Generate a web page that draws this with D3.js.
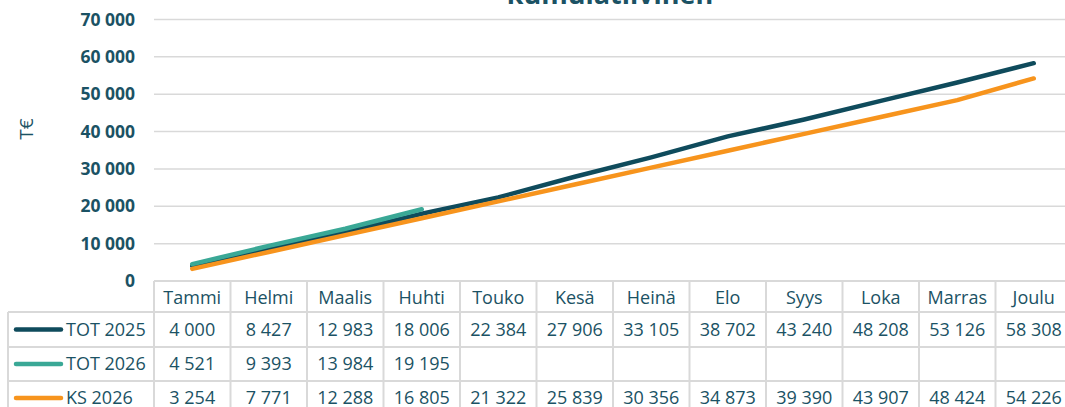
<!DOCTYPE html>
<html>
<head>
<meta charset="utf-8">
<script src="https://cdn.jsdelivr.net/npm/d3@7"></script>
<style>
  body { margin: 0; background: #fff; }
  text { font-family: "Open Sans", sans-serif; }
</style>
</head>
<body>
<script>
var width = 1065;
var height = 407;

var months = ['Tammi', 'Helmi', 'Maalis', 'Huhti', 'Touko', 'Kesä', 'Heinä', 'Elo', 'Syys', 'Loka', 'Marras', 'Joulu'];
var tot2025 = [4000, 8427, 12983, 18006, 22384, 27906, 33105, 38702, 43240, 48208, 53126, 58308];
var tot2026 = [4521, 9393, 13984, 19195];
var ks2026 = [3254, 7771, 12288, 16805, 21322, 25839, 30356, 34873, 39390, 43907, 48424, 54226];
var yTicks = [0, 10000, 20000, 30000, 40000, 50000, 60000, 70000];

var seriesNames = ['TOT 2025', 'TOT 2026', 'KS 2026'];
var seriesColors = ['#0f4b5c', '#3aa896', '#f7941d'];
var seriesData = [tot2025, tot2026, ks2026];

var textColor = '#1b5264';
var gridColor = '#d9d9d9';

var fi = d3.formatLocale({decimal: ',', thousands: ' ', grouping: [3], currency: ['', ' €']});
var fmt = fi.format(',d');

var svg = d3.select('body')
    .append('svg')
    .attr('width', width)
    .attr('height', height);

// plot area
var left = 154, colW = 76.5;
var x = d3.scaleBand()
    .domain(months)
    .range([left, left + colW * months.length]);
var y = d3.scaleLinear()
    .domain([0, 70000])
    .range([281, 19.5]);

// gridlines
svg.append('g').selectAll('line')
    .data(yTicks.slice(1))
    .enter()
    .append('line')
    .attr('x1', left)
    .attr('x2', width)
    .attr('y1', d => y(d))
    .attr('y2', d => y(d))
    .attr('stroke', gridColor)
    .attr('stroke-width', 1.5);

// y axis labels
var yAxis = svg.append('g')
    .attr('transform', 'translate(135,0)')
    .call(d3.axisLeft(y).tickValues(yTicks).tickSize(0).tickPadding(0).tickFormat(fmt));
yAxis.select('.domain').remove();
yAxis.selectAll('text')
    .attr('fill', textColor)
    .style('font-family', '"Open Sans", sans-serif')
    .style('font-size', '17.5px')
    .style('font-weight', 'bold');

// axis title
svg.append('text')
    .attr('transform', 'translate(33,129) rotate(-90)')
    .attr('text-anchor', 'middle')
    .attr('fill', textColor)
    .style('font-size', '19px')
    .text('T€');

// chart title (cut off at top)
svg.append('text')
    .attr('x', 610)
    .attr('y', 4)
    .attr('text-anchor', 'middle')
    .attr('fill', textColor)
    .style('font-size', '27px')
    .style('font-weight', 'bold')
    .text('kumulatiivinen');

// lines
var line = d3.line()
    .x((d, i) => x(months[i]) + x.bandwidth() / 2)
    .y(d => y(d));

svg.append('g').selectAll('path')
    .data(seriesData)
    .enter()
    .append('path')
    .attr('d', d => line(d))
    .attr('fill', 'none')
    .attr('stroke', (d, i) => seriesColors[i])
    .attr('stroke-width', 4.5)
    .attr('stroke-linecap', 'round')
    .attr('stroke-linejoin', 'round');

// data table
var rowTops = [281, 312, 347, 381, 415];
var table = svg.append('g');

// horizontal lines
table.append('line')
    .attr('x1', left).attr('x2', width)
    .attr('y1', rowTops[0]).attr('y2', rowTops[0])
    .attr('stroke', gridColor).attr('stroke-width', 2);
table.selectAll('.hl')
    .data(rowTops.slice(1, 4))
    .enter()
    .append('line')
    .attr('x1', 8).attr('x2', width)
    .attr('y1', d => d).attr('y2', d => d)
    .attr('stroke', gridColor).attr('stroke-width', 2);

// vertical lines
table.selectAll('.vl')
    .data(months.map(m => x(m)).concat([x(months[11]) + colW]))
    .enter()
    .append('line')
    .attr('x1', d => d).attr('x2', d => d)
    .attr('y1', rowTops[0]).attr('y2', height)
    .attr('stroke', gridColor).attr('stroke-width', 2);
table.append('line')
    .attr('x1', 8).attr('x2', 8)
    .attr('y1', rowTops[1]).attr('y2', height)
    .attr('stroke', gridColor).attr('stroke-width', 2);

// header
table.selectAll('.hd')
    .data(months)
    .enter()
    .append('text')
    .attr('x', d => x(d) + x.bandwidth() / 2)
    .attr('y', (rowTops[0] + rowTops[1]) / 2 + 1)
    .attr('dy', '0.35em')
    .attr('text-anchor', 'middle')
    .attr('fill', textColor)
    .style('font-size', '18px')
    .text(d => d);

// rows
seriesData.forEach(function(vals, r) {
    var cy = (rowTops[r + 1] + rowTops[r + 2]) / 2;
    table.append('line')
        .attr('x1', 16).attr('x2', 61)
        .attr('y1', cy).attr('y2', cy)
        .attr('stroke', seriesColors[r])
        .attr('stroke-width', 4.5)
        .attr('stroke-linecap', 'round');
    table.append('text')
        .attr('x', 66)
        .attr('y', cy)
        .attr('dy', '0.35em')
        .attr('fill', textColor)
        .style('font-size', '18px')
        .text(seriesNames[r]);
    table.selectAll('.v' + r)
        .data(vals)
        .enter()
        .append('text')
        .attr('x', (d, i) => x(months[i]) + x.bandwidth() / 2)
        .attr('y', cy)
        .attr('dy', '0.35em')
        .attr('text-anchor', 'middle')
        .attr('fill', textColor)
        .style('font-size', '18px')
        .text(d => fmt(d));
});
</script>
</body>
</html>
